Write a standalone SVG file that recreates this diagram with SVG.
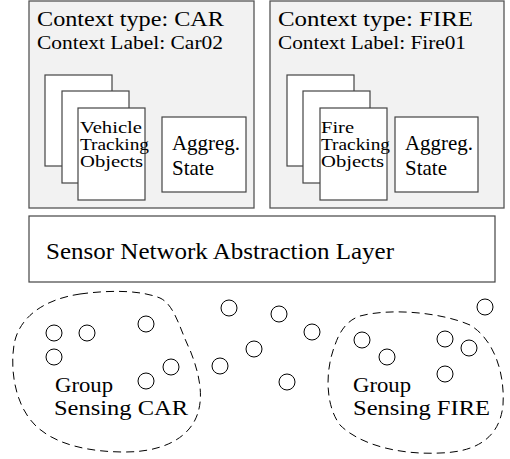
<svg xmlns="http://www.w3.org/2000/svg" width="510" height="459" viewBox="0 0 510 459">
<style>
text{font-family:"Liberation Serif","Times New Roman",serif;fill:#000}
.ctx{fill:#f2f2f2;stroke:#555;stroke-width:1.3}
.box{fill:#fff;stroke:#444;stroke-width:1.2}
.node{fill:none;stroke:#000;stroke-width:1}
.blob{fill:none;stroke:#000;stroke-width:1;stroke-dasharray:8 5}
.t1{font-size:21px}
.t2{font-size:18.5px}
.t3{font-size:16px}
.t4{font-size:21px}
.t5{font-size:23px}
.t6{font-size:20px}
</style>
<rect width="510" height="459" fill="#fff"/>
<g id="ctx-car">
<rect class="ctx" x="29" y="1" width="225" height="207"/>
<text class="t1" x="37" y="26" textLength="187" lengthAdjust="spacingAndGlyphs">Context type: CAR</text>
<text class="t2" x="37" y="49" textLength="186" lengthAdjust="spacingAndGlyphs">Context Label: Car02</text>
<rect class="box" x="45" y="75" width="67" height="91"/>
<rect class="box" x="62" y="91" width="67" height="92"/>
<rect class="box" x="78" y="108" width="67" height="92"/>
<text class="t3" x="80" y="133" textLength="62" lengthAdjust="spacingAndGlyphs">Vehicle</text>
<text class="t3" x="80" y="150" textLength="69" lengthAdjust="spacingAndGlyphs">Tracking</text>
<text class="t3" x="80" y="167" textLength="63" lengthAdjust="spacingAndGlyphs">Objects</text>
<rect class="box" x="162" y="117" width="84" height="75"/>
<text class="t4" x="172" y="150" textLength="68" lengthAdjust="spacingAndGlyphs">Aggreg.</text>
<text class="t4" x="172" y="175">State</text>
</g>
<g id="ctx-fire">
<rect class="ctx" x="270" y="1" width="234" height="207"/>
<text class="t1" x="278" y="26" textLength="195" lengthAdjust="spacingAndGlyphs">Context type: FIRE</text>
<text class="t2" x="278" y="49" textLength="188" lengthAdjust="spacingAndGlyphs">Context Label: Fire01</text>
<rect class="box" x="287" y="75" width="67" height="91"/>
<rect class="box" x="303" y="91" width="67" height="92"/>
<rect class="box" x="320" y="108" width="67" height="92"/>
<text class="t3" x="321" y="133" textLength="33" lengthAdjust="spacingAndGlyphs">Fire</text>
<text class="t3" x="321" y="150" textLength="69" lengthAdjust="spacingAndGlyphs">Tracking</text>
<text class="t3" x="321" y="167" textLength="63" lengthAdjust="spacingAndGlyphs">Objects</text>
<rect class="box" x="395" y="117" width="83" height="75"/>
<text class="t4" x="405" y="150" textLength="68" lengthAdjust="spacingAndGlyphs">Aggreg.</text>
<text class="t4" x="405" y="175">State</text>
</g>
<g id="sensor-layer">
<rect class="box" x="29" y="216" width="466" height="66" stroke="#555"/>
<text class="t5" x="46" y="259" textLength="348" lengthAdjust="spacingAndGlyphs">Sensor Network Abstraction Layer</text>
</g>
<g id="group-car">
<path class="blob" d="M80,294 C110,290 140,290 160,298 C175,305 180,330 190,350 C200,375 205,400 195,420 C185,440 160,452 125,452 C90,452 55,445 35,425 C15,405 10,370 14,345 C18,320 40,300 80,294 Z"/>
<text class="t6" x="55" y="392" textLength="58" lengthAdjust="spacingAndGlyphs">Group</text>
<text class="t6" x="54" y="415" textLength="134" lengthAdjust="spacingAndGlyphs">Sensing CAR</text>
</g>
<g id="group-fire">
<path class="blob" d="M360,316 C390,308 440,312 470,325 C495,340 505,375 503,405 C500,435 480,452 440,453 C400,455 360,445 340,425 C325,405 325,370 335,345 C340,330 348,320 360,316 Z"/>
<text class="t6" x="353" y="392" textLength="58" lengthAdjust="spacingAndGlyphs">Group</text>
<text class="t6" x="353" y="415" textLength="137" lengthAdjust="spacingAndGlyphs">Sensing FIRE</text>
</g>
<g id="sensors">
<circle class="node" cx="54" cy="333" r="8"/>
<circle class="node" cx="87" cy="333" r="8"/>
<circle class="node" cx="146" cy="324" r="8"/>
<circle class="node" cx="54" cy="357" r="8"/>
<circle class="node" cx="171" cy="367" r="8"/>
<circle class="node" cx="146" cy="381" r="8"/>
<circle class="node" cx="229" cy="308" r="8"/>
<circle class="node" cx="220" cy="366" r="8"/>
<circle class="node" cx="254" cy="349" r="8"/>
<circle class="node" cx="279" cy="314" r="8"/>
<circle class="node" cx="312" cy="332" r="8"/>
<circle class="node" cx="287" cy="382" r="8"/>
<circle class="node" cx="362" cy="340" r="8"/>
<circle class="node" cx="387" cy="357" r="8"/>
<circle class="node" cx="445" cy="339" r="8"/>
<circle class="node" cx="469" cy="348" r="8"/>
<circle class="node" cx="445" cy="374" r="8"/>
<circle class="node" cx="485" cy="307" r="8"/>
</g>
</svg>
